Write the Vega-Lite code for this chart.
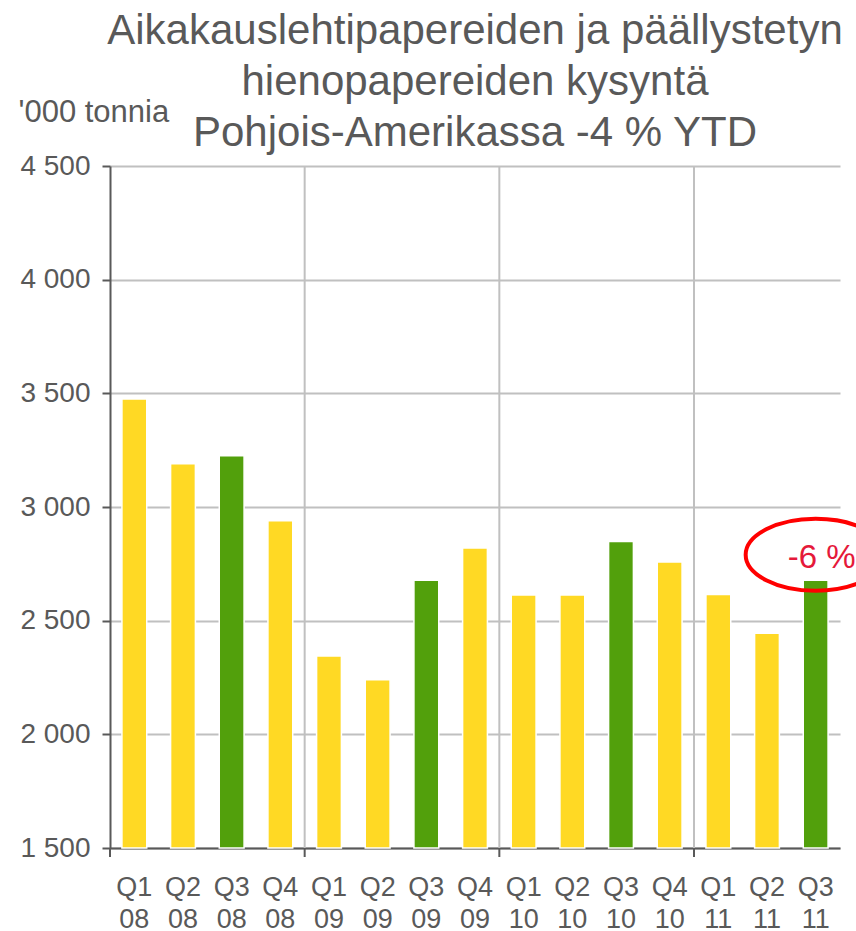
{
  "$schema": "https://vega.github.io/schema/vega-lite/v6.json",
  "width": 730,
  "height": 682,
  "padding": {"left": 18, "top": 10, "right": 0, "bottom": 0},
  "background": "white",
  "config": {
    "view": {"stroke": null},
    "font": "Liberation Sans"
  },
  "title": {
    "text": ["Aikakauslehtipapereiden ja päällystetyn", "hienopapereiden kysyntä", "Pohjois-Amerikassa -4 % YTD"],
    "fontSize": 42,
    "fontWeight": "normal",
    "font": "Liberation Sans",
    "color": "#595959",
    "lineHeight": 51,
    "anchor": "middle",
    "offset": -59
  },
  "datasets": {
    "kysynta": [
      {"period": "Q1 08", "quarter": "Q1", "value": 3475},
      {"period": "Q2 08", "quarter": "Q2", "value": 3190},
      {"period": "Q3 08", "quarter": "Q3", "value": 3225},
      {"period": "Q4 08", "quarter": "Q4", "value": 2940},
      {"period": "Q1 09", "quarter": "Q1", "value": 2345},
      {"period": "Q2 09", "quarter": "Q2", "value": 2240},
      {"period": "Q3 09", "quarter": "Q3", "value": 2678},
      {"period": "Q4 09", "quarter": "Q4", "value": 2820},
      {"period": "Q1 10", "quarter": "Q1", "value": 2613},
      {"period": "Q2 10", "quarter": "Q2", "value": 2613},
      {"period": "Q3 10", "quarter": "Q3", "value": 2848},
      {"period": "Q4 10", "quarter": "Q4", "value": 2758},
      {"period": "Q1 11", "quarter": "Q1", "value": 2615},
      {"period": "Q2 11", "quarter": "Q2", "value": 2445},
      {"period": "Q3 11", "quarter": "Q3", "value": 2678}
    ],
    "note": [
      {"period": "Q3 11", "value": 2790, "label": "-6 %"}
    ]
  },
  "data": {"name": "kysynta"},
  "encoding": {
    "x": {
      "field": "period",
      "type": "nominal",
      "scale": {
        "domain": ["Q1 08","Q2 08","Q3 08","Q4 08","Q1 09","Q2 09","Q3 09","Q4 09","Q1 10","Q2 10","Q3 10","Q4 10","Q1 11","Q2 11","Q3 11"],
        "paddingInner": 0,
        "paddingOuter": 0
      },
      "axis": {
        "title": null,
        "labelAngle": 0,
        "labelExpr": "split(datum.value, ' ')",
        "labelFontSize": 27,
        "labelColor": "#595959",
        "labelLineHeight": 32,
        "labelBaseline": "alphabetic",
        "labelPadding": 47,
        "ticks": false,
        "tickSize": 0,
        "domainColor": "#595959",
        "domainWidth": 2,
        "grid": false
      }
    }
  },
  "layer": [
    {
      "mark": {"type": "bar", "width": {"band": 0.51}, "stroke": "white", "strokeWidth": 1.5},
      "encoding": {
        "y": {
          "field": "value",
          "type": "quantitative",
          "scale": {"domain": [1500, 4500], "zero": false, "nice": false},
          "axis": {
            "values": [1500, 2000, 2500, 3000, 3500, 4000, 4500],
            "labelExpr": "replace(format(datum.value, ','), ',', ' ')",
            "labelFontSize": 28,
            "labelColor": "#595959",
            "labelPadding": 12,
            "tickSize": 8,
            "tickColor": "#595959",
            "tickWidth": 2,
            "domainColor": "#595959",
            "domainWidth": 2,
            "grid": true,
            "gridColor": "#c0c0c0",
            "gridWidth": 2,
            "title": "'000 tonnia",
            "titleAngle": 0,
            "titleAlign": "left",
            "titleBaseline": "alphabetic",
            "titleX": -92,
            "titleY": -45,
            "titleFontSize": 31,
            "titleFontWeight": "normal",
            "titleColor": "#595959"
          }
        },
        "y2": {"datum": 1500},
        "color": {
          "field": "quarter",
          "type": "nominal",
          "scale": {"domain": ["Q1", "Q2", "Q3", "Q4"], "range": ["#FFD924", "#FFD924", "#52A00C", "#FFD924"]},
          "legend": null
        }
      }
    },
    {
      "transform": [{"filter": "datum.quarter == 'Q1' && datum.period != 'Q1 08'"}],
      "mark": {"type": "rule", "color": "#c0c0c0", "strokeWidth": 2},
      "encoding": {
        "x": {"field": "period", "type": "nominal", "bandPosition": 0},
        "y": {"datum": 4500, "type": "quantitative"},
        "y2": {"datum": 1500}
      }
    },
    {
      "transform": [{"filter": "datum.quarter == 'Q1'"}],
      "mark": {"type": "rule", "color": "#595959", "strokeWidth": 2, "y2Offset": 9},
      "encoding": {
        "x": {"field": "period", "type": "nominal", "bandPosition": 0},
        "y": {"datum": 1500, "type": "quantitative"},
        "y2": {"datum": 1500}
      }
    },
    {
      "data": {"name": "note"},
      "mark": {
        "type": "point",
        "shape": "M-1,0 A1,0.514 0 1,0 1,0 A1,0.514 0 1,0 -1,0 Z",
        "size": 19600,
        "filled": false,
        "stroke": "#FF0000",
        "strokeWidth": 4,
        "opacity": 1
      },
      "encoding": {
        "x": {"field": "period", "type": "nominal"},
        "y": {"field": "value", "type": "quantitative"}
      }
    },
    {
      "data": {"name": "note"},
      "mark": {"type": "text", "fontSize": 33, "color": "#E5193A", "align": "center", "baseline": "middle", "dy": 3, "dx": 6},
      "encoding": {
        "x": {"field": "period", "type": "nominal"},
        "y": {"field": "value", "type": "quantitative"},
        "text": {"field": "label"}
      }
    }
  ]
}
